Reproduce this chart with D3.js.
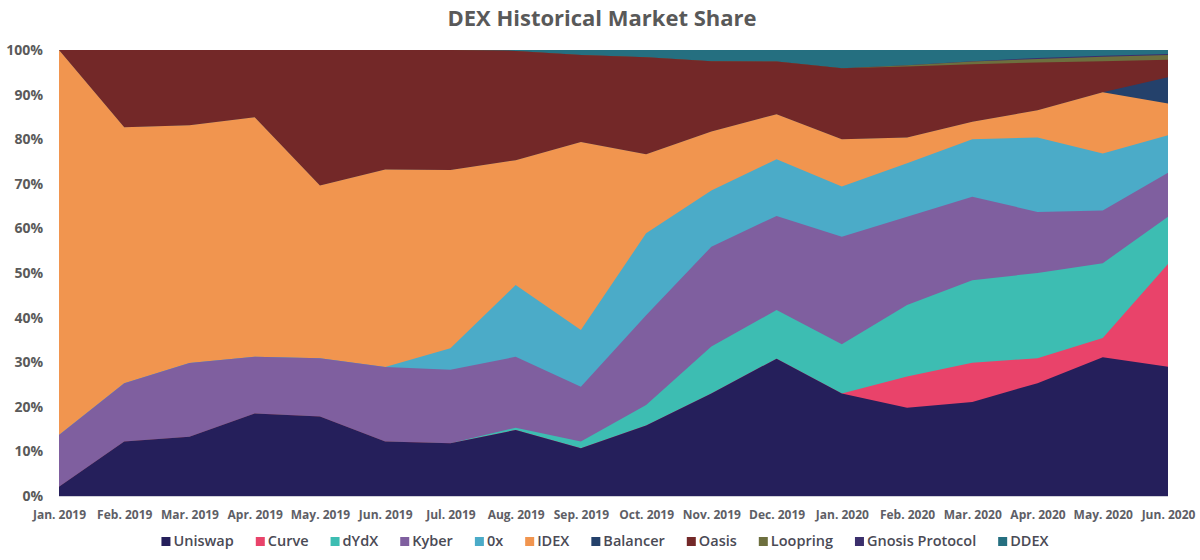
<!DOCTYPE html>
<html>
<head>
<meta charset="utf-8">
<script src="https://cdn.jsdelivr.net/npm/d3@7"></script>
<style>
  html, body { margin: 0; padding: 0; background: #ffffff; }
  svg { display: block; }
</style>
</head>
<body>
<svg id="chart" width="1200" height="560"></svg>
<script>
// ---------- DATA ----------
const months = ["Jan. 2019","Feb. 2019","Mar. 2019","Apr. 2019","May. 2019","Jun. 2019","Jul. 2019","Aug. 2019","Sep. 2019","Oct. 2019","Nov. 2019","Dec. 2019","Jan. 2020","Feb. 2020","Mar. 2020","Apr. 2020","May. 2020","Jun. 2020"];
const seriesNames = ["Uniswap","Curve","dYdX","Kyber","0x","IDEX","Balancer","Oasis","Loopring","Gnosis Protocol","DDEX"];
const uniswap  = [2.1,12.2,13.3,18.5,17.8,12.2,11.8,14.8,10.7,15.8,23.0,30.8,23.0,19.8,21.1,25.3,31.1,29.0];
const curve    = [0,0,0,0,0,0,0,0,0,0,0,0,0,7.0,8.8,5.6,4.3,23.0];
const dydx     = [0,0,0,0,0,0,0,0.5,1.5,4.6,10.5,10.9,11.0,16.0,18.5,19.1,16.8,10.6];
const kyber    = [11.6,13.1,16.5,12.7,13.1,16.7,16.5,15.9,12.3,20.1,22.4,21.1,24.1,19.8,18.7,13.7,11.8,9.9];
const zeroX    = [0,0,0,0,0,0,4.8,16.1,12.7,18.4,12.6,12.7,11.3,12.0,12.9,16.7,12.8,8.4];
const idex     = [86.3,57.4,53.3,53.7,38.7,44.3,40.0,28.0,42.2,17.7,13.2,10.1,10.6,5.8,3.9,6.1,13.7,7.1];
const balancer = [0,0,0,0,0,0,0,0,0,0,0,0,0,0,0,0,0,5.9];
const oasis    = [0,17.3,16.9,15.1,30.4,26.8,26.9,24.5,19.5,21.8,15.8,11.8,15.9,15.9,12.9,10.7,7.0,3.9];
const loopring = [0,0,0,0,0,0,0,0,0,0,0,0,0,0.3,0.6,0.8,1.0,1.1];
const gnosis   = [0,0,0,0,0,0,0,0,0,0,0,0,0,0,0.1,0.2,0.2,0.2];
const ddex     = [0,0,0,0,0,0,0,0.2,1.1,1.6,2.5,2.6,4.1,3.4,2.5,1.8,1.3,0.9];
const yTicks   = [0,10,20,30,40,50,60,70,80,90,100];

const seriesValues = [uniswap, curve, dydx, kyber, zeroX, idex, balancer, oasis, loopring, gnosis, ddex];
const colors = ["#251f5b","#e9436a","#3dbdb2","#7f5f9f","#4babc8","#f1954f","#24416b","#732828","#6d6f3e","#3b2f6c","#256f80"];

// ---------- LAYOUT ----------
const svg = d3.select("#chart");
const M = {left: 59, right: 1168, top: 50, bottom: 496};

const rows = months.map((m, i) => {
  const r = {month: m};
  seriesNames.forEach((s, j) => r[s] = seriesValues[j][i]);
  return r;
});

const stack = d3.stack().keys(seriesNames).offset(d3.stackOffsetExpand);
const layers = stack(rows);

const x = d3.scalePoint().domain(months).range([M.left, M.right]);
const y = d3.scaleLinear().domain([0, 1]).range([M.bottom, M.top]);

// Draw cumulative areas top-down (each from baseline to its upper edge) to avoid seams
const area = d3.area()
  .x(d => x(d.data.month))
  .y0(y(0))
  .y1(d => y(d[1]));

svg.append("g").selectAll("path")
  .data(layers.slice().reverse())
  .join("path")
  .attr("d", area)
  .attr("fill", d => colors[d.index]);

// baseline
svg.append("line")
  .attr("x1", M.left).attr("x2", M.right)
  .attr("y1", M.bottom + 0.5).attr("y2", M.bottom + 0.5)
  .attr("stroke", "#cfcfd8").attr("stroke-width", 1);

// title
svg.append("text")
  .attr("x", 602).attr("y", 26)
  .attr("text-anchor", "middle")
  .attr("font-family", "'Open Sans', sans-serif")
  .attr("font-weight", 700)
  .attr("font-size", 22)
  .attr("fill", "#595959")
  .text("DEX Historical Market Share");

// y axis
const yAxis = d3.axisLeft(d3.scaleLinear().domain([0, 100]).range([M.bottom, M.top]))
  .tickValues(yTicks)
  .tickFormat(d => d + "%")
  .tickSize(0)
  .tickPadding(16);
const gy = svg.append("g").attr("transform", `translate(${M.left},0)`).call(yAxis);
gy.select(".domain").remove();
gy.selectAll("text")
  .attr("font-family", "'Open Sans', sans-serif")
  .attr("font-weight", 700)
  .attr("font-size", 14)
  .attr("fill", "#5a5a5a");

// x axis
const xAxis = d3.axisBottom(x).tickSize(0).tickPadding(14);
const gx = svg.append("g").attr("transform", `translate(0,${M.bottom})`).call(xAxis);
gx.select(".domain").remove();
gx.selectAll("text")
  .attr("font-family", "'Open Sans', sans-serif")
  .attr("font-weight", 700)
  .attr("font-size", 12)
  .attr("fill", "#5e5e66");

// legend
const legend = svg.append("g");
const items = legend.selectAll("g").data(seriesNames).join("g");
items.append("rect")
  .attr("width", 9).attr("height", 9)
  .attr("y", -9)
  .attr("fill", (d, i) => colors[i]);
items.append("text")
  .attr("x", 12)
  .attr("font-family", "'Open Sans', sans-serif")
  .attr("font-weight", 600)
  .attr("font-size", 14.5)
  .attr("fill", "#4a4a55")
  .text(d => d);
const widths = [];
items.each(function() { widths.push(this.getBBox().width); });
const gap = 22;
const total = d3.sum(widths) + gap * (widths.length - 1);
let start = 605 - total / 2;
items.attr("transform", (d, i) => {
  const tx = start;
  start += widths[i] + gap;
  return `translate(${tx},546)`;
});
</script>
</body>
</html>
